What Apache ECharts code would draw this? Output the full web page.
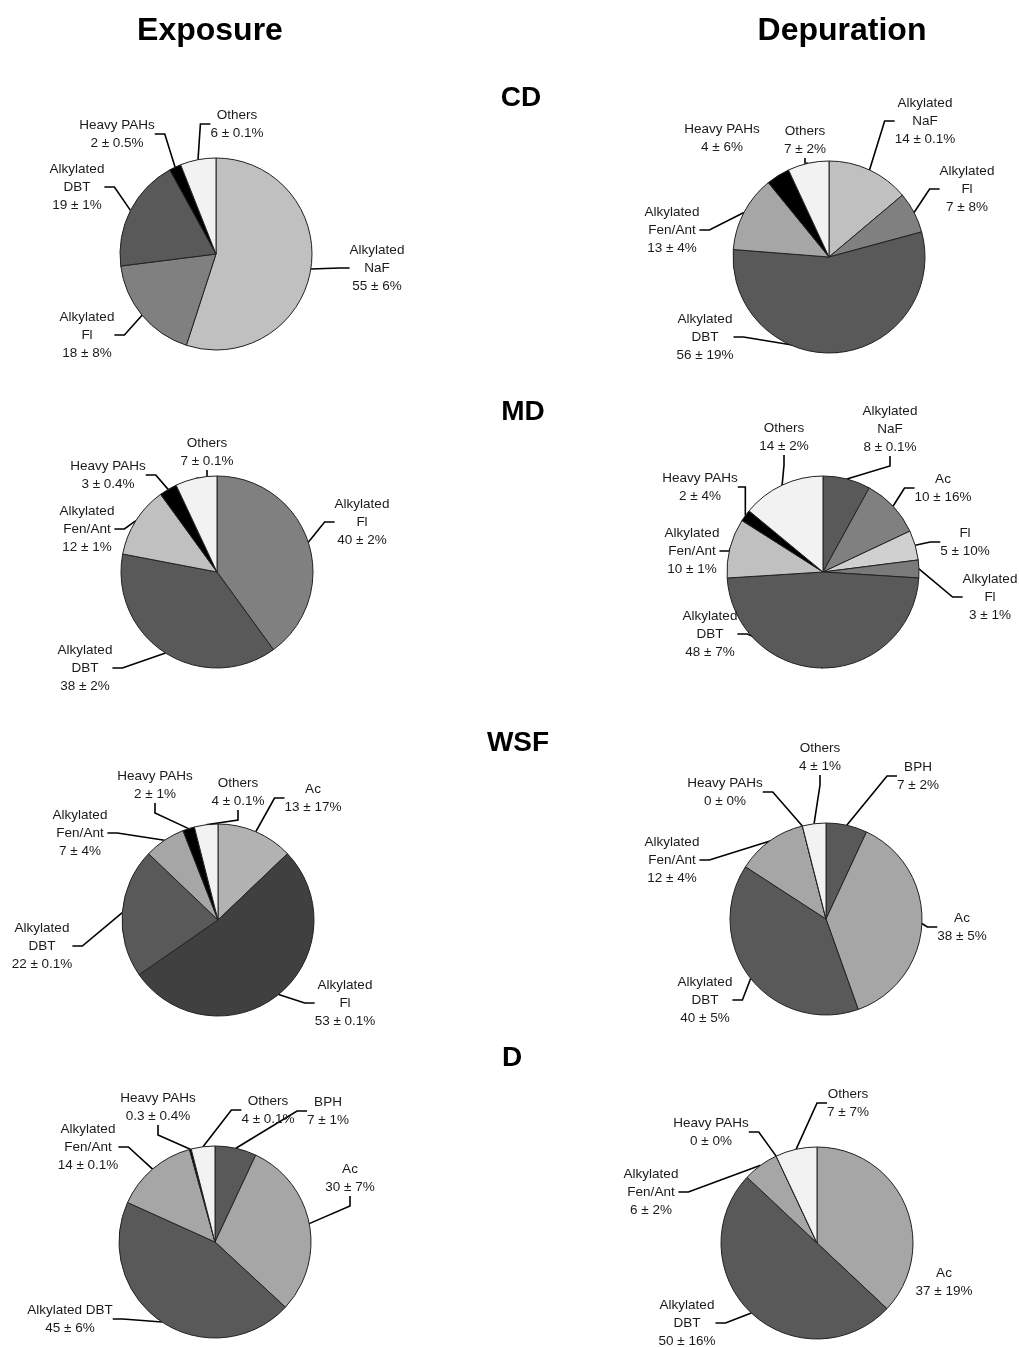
<!DOCTYPE html>
<html>
<head>
<meta charset="utf-8">
<title>PAH composition pies</title>
<script src="https://cdn.jsdelivr.net/npm/echarts@6/dist/echarts.min.js"></script>
<style>
  html, body { margin: 0; padding: 0; background: #fff; }
  #main { width: 1019px; height: 1347px; }
</style>
</head>
<body>
<div id="main"></div>
<script>
// CD - exposure
const cdExpNames = ['Alkylated\nNaF', 'Alkylated\nFl', 'Alkylated\nDBT', 'Heavy PAHs', 'Others'];
const cdExpValues = [55, 18, 19, 2, 6];
const cdExpErrors = ['6', '8', '1', '0.5', '0.1'];
// CD - depuration
const cdDepNames = ['Alkylated\nNaF', 'Alkylated\nFl', 'Alkylated\nDBT', 'Alkylated\nFen/Ant', 'Heavy PAHs', 'Others'];
const cdDepValues = [14, 7, 56, 13, 4, 7];
const cdDepErrors = ['0.1', '8', '19', '4', '6', '2'];
// MD - exposure
const mdExpNames = ['Alkylated\nFl', 'Alkylated\nDBT', 'Alkylated\nFen/Ant', 'Heavy PAHs', 'Others'];
const mdExpValues = [40, 38, 12, 3, 7];
const mdExpErrors = ['2', '2', '1', '0.4', '0.1'];
// MD - depuration
const mdDepNames = ['Alkylated\nNaF', 'Ac', 'Fl', 'Alkylated\nFl', 'Alkylated\nDBT', 'Alkylated\nFen/Ant', 'Heavy PAHs', 'Others'];
const mdDepValues = [8, 10, 5, 3, 48, 10, 2, 14];
const mdDepErrors = ['0.1', '16', '10', '1', '7', '1', '4', '2'];
// WSF - exposure
const wsfExpNames = ['Ac', 'Alkylated\nFl', 'Alkylated\nDBT', 'Alkylated\nFen/Ant', 'Heavy PAHs', 'Others'];
const wsfExpValues = [13, 53, 22, 7, 2, 4];
const wsfExpErrors = ['17', '0.1', '0.1', '4', '1', '0.1'];
// WSF - depuration
const wsfDepNames = ['BPH', 'Ac', 'Alkylated\nDBT', 'Alkylated\nFen/Ant', 'Heavy PAHs', 'Others'];
const wsfDepValues = [7, 38, 40, 12, 0, 4];
const wsfDepErrors = ['2', '5', '5', '4', '0', '1'];
// D - exposure
const dExpNames = ['BPH', 'Ac', 'Alkylated DBT', 'Alkylated\nFen/Ant', 'Heavy PAHs', 'Others'];
const dExpValues = [7, 30, 45, 14, 0.3, 4];
const dExpErrors = ['1', '7', '6', '0.1', '0.4', '0.1'];
// D - depuration
const dDepNames = ['Ac', 'Alkylated\nDBT', 'Alkylated\nFen/Ant', 'Heavy PAHs', 'Others'];
const dDepValues = [37, 50, 6, 0, 7];
const dDepErrors = ['19', '16', '2', '0', '7'];

const FONT = 'Liberation Sans';
const chart = echarts.init(document.getElementById('main'));

// slice colours, one per slice
const cdExpColors = ['#c0c0c0', '#808080', '#595959', '#000000', '#f2f2f2'];
const cdDepColors = ['#c0c0c0', '#808080', '#595959', '#a6a6a6', '#000000', '#f2f2f2'];
const mdExpColors = ['#808080', '#595959', '#c0c0c0', '#000000', '#f2f2f2'];
const mdDepColors = ['#595959', '#808080', '#d0d0d0', '#7a7a7a', '#595959', '#c0c0c0', '#000000', '#f2f2f2'];
const wsfExpColors = ['#b2b2b2', '#404040', '#595959', '#a6a6a6', '#000000', '#f2f2f2'];
const wsfDepColors = ['#595959', '#a6a6a6', '#595959', '#a6a6a6', '#000000', '#f2f2f2'];
const dExpColors = ['#595959', '#a6a6a6', '#595959', '#a6a6a6', '#000000', '#f2f2f2'];
const dDepColors = ['#a6a6a6', '#595959', '#a6a6a6', '#000000', '#f2f2f2'];

// where each label block sits (pixel centre)
const cdExpLabels = [[377, 268], [87, 335], [77, 187], [117, 134], [237, 124]];
const cdDepLabels = [[925, 121], [967, 189], [705, 337], [672, 230], [722, 138], [805, 140]];
const mdExpLabels = [[362, 522], [85, 668], [87, 529], [108, 475], [207, 452]];
const mdDepLabels = [[890, 429], [943, 488], [965, 542], [990, 597], [710, 634], [692, 551], [700, 487], [784, 437]];
const wsfExpLabels = [[313, 798], [345, 1003], [42, 946], [80, 833], [155, 785], [238, 792]];
const wsfDepLabels = [[918, 776], [962, 927], [705, 1000], [672, 860], [725, 792], [820, 757]];
const dExpLabels = [[328, 1111], [350, 1178], [70, 1319], [88, 1147], [158, 1107], [268, 1110]];
const dDepLabels = [[944, 1282], [687, 1323], [651, 1192], [711, 1132], [848, 1103]];

function makePie(names, values, errors, colors, labelPos, center, noLine) {
  noLine = noLine || [];
  return {
    type: 'pie',
    center: center,
    radius: 96,
    startAngle: 90,
    clockwise: true,
    avoidLabelOverlap: false,
    silent: true,
    data: names.map((n, i) => ({
      name: n,
      value: values[i],
      itemStyle: { color: colors[i] },
      labelLine: { show: noLine.indexOf(i) < 0 }
    })),
    itemStyle: { borderColor: '#222', borderWidth: 1 },
    label: {
      show: true,
      position: 'outside',
      fontFamily: FONT,
      fontSize: 13.5,
      lineHeight: 18,
      color: '#1a1a1a',
      align: 'center',
      formatter: p => p.name + '\n' + p.value + ' \u00b1 ' + errors[p.dataIndex] + '%'
    },
    labelLine: {
      show: true,
      length: 10,
      length2: 10,
      lineStyle: { color: '#000', width: 1.6 }
    },
    labelLayout: function (params) {
      const p = labelPos[params.dataIndex];
      return { x: p[0], y: p[1], align: 'center', verticalAlign: 'middle' };
    }
  };
}

function heading(text, x, y, size) {
  return {
    type: 'text',
    x: x,
    y: y,
    style: {
      text: text,
      fontFamily: 'Liberation Sans',
      fontWeight: 'bold',
      fontSize: size,
      fill: '#000',
      align: 'center',
      verticalAlign: 'middle'
    }
  };
}

chart.setOption({
  backgroundColor: '#fff',
  animation: false,
  graphic: [
    heading('Exposure', 210, 31, 32),
    heading('Depuration', 842, 31, 32),
    heading('CD', 521, 98, 28),
    heading('MD', 523, 412, 28),
    heading('WSF', 518, 743, 28),
    heading('D', 512, 1058, 28)
  ],
  series: [
    makePie(cdExpNames, cdExpValues, cdExpErrors, cdExpColors, cdExpLabels, [216, 254]),
    makePie(cdDepNames, cdDepValues, cdDepErrors, cdDepColors, cdDepLabels, [829, 257], [4]),
    makePie(mdExpNames, mdExpValues, mdExpErrors, mdExpColors, mdExpLabels, [217, 572]),
    makePie(mdDepNames, mdDepValues, mdDepErrors, mdDepColors, mdDepLabels, [823, 572]),
    makePie(wsfExpNames, wsfExpValues, wsfExpErrors, wsfExpColors, wsfExpLabels, [218, 920]),
    makePie(wsfDepNames, wsfDepValues, wsfDepErrors, wsfDepColors, wsfDepLabels, [826, 919]),
    makePie(dExpNames, dExpValues, dExpErrors, dExpColors, dExpLabels, [215, 1242]),
    makePie(dDepNames, dDepValues, dDepErrors, dDepColors, dDepLabels, [817, 1243], [0])
  ]
});
</script>
</body>
</html>
